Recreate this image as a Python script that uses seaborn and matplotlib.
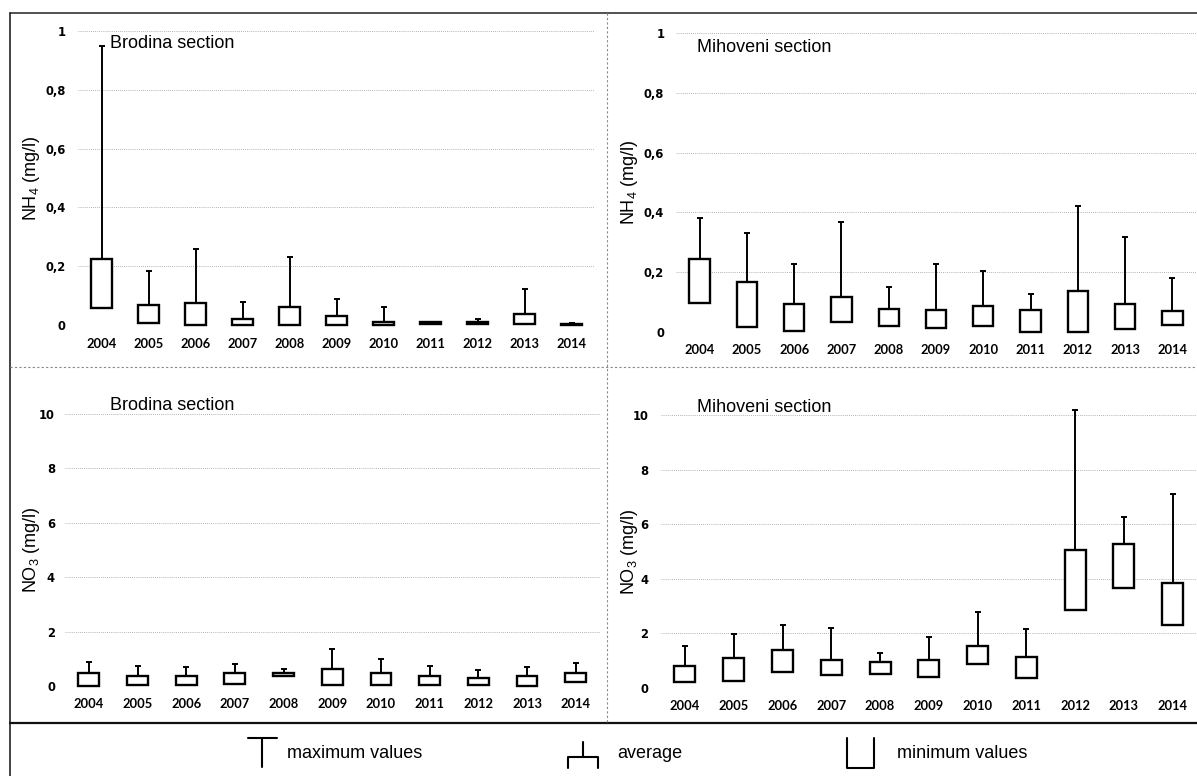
import matplotlib
matplotlib.use('Agg')
import matplotlib.pyplot as plt
import seaborn as sns
import numpy as np
from matplotlib.lines import Line2D

years = [str(y) for y in range(2004, 2015)]

# NH4 (mg/l), Brodina section
brodina_nh4_min = [0.057, 0.008, 0.0, 0.0, 0.0, 0.0, 0.0, 0.002, 0.003, 0.003, 0.001]
brodina_nh4_avg = [0.223, 0.068, 0.076, 0.019, 0.060, 0.031, 0.011, 0.009, 0.010, 0.037, 0.004]
brodina_nh4_max = [0.95, 0.185, 0.257, 0.079, 0.230, 0.090, 0.062, 0.011, 0.022, 0.121, 0.006]

# NH4 (mg/l), Mihoveni section
mihoveni_nh4_min = [0.098, 0.017, 0.002, 0.034, 0.019, 0.013, 0.021, 0.0, 0.0, 0.009, 0.025]
mihoveni_nh4_avg = [0.245, 0.168, 0.092, 0.117, 0.078, 0.075, 0.086, 0.073, 0.136, 0.093, 0.070]
mihoveni_nh4_max = [0.380, 0.330, 0.229, 0.369, 0.151, 0.226, 0.203, 0.128, 0.421, 0.318, 0.179]

# NO3 (mg/l), Brodina section
brodina_no3_min = [0.0, 0.03, 0.04, 0.08, 0.37, 0.04, 0.04, 0.04, 0.04, 0.0, 0.16]
brodina_no3_avg = [0.47, 0.37, 0.37, 0.47, 0.47, 0.61, 0.49, 0.38, 0.31, 0.38, 0.49]
brodina_no3_max = [0.90, 0.75, 0.69, 0.81, 0.61, 1.35, 0.98, 0.75, 0.59, 0.71, 0.86]

# NO3 (mg/l), Mihoveni section
mihoveni_no3_min = [0.21, 0.24, 0.59, 0.49, 0.52, 0.39, 0.89, 0.37, 2.87, 3.66, 2.32]
mihoveni_no3_avg = [0.79, 1.10, 1.40, 1.04, 0.94, 1.01, 1.55, 1.12, 5.06, 5.28, 3.84]
mihoveni_no3_max = [1.55, 1.98, 2.29, 2.20, 1.30, 1.87, 2.77, 2.17, 10.2, 6.28, 7.10]

nh4_ticks = [0, 0.2, 0.4, 0.6, 0.8, 1.0]
nh4_ticklabels = ['0', '0,2', '0,4', '0,6', '0,8', '1']
no3_ticks = [0, 2, 4, 6, 8, 10]
no3_ticklabels = ['0', '2', '4', '6', '8', '10']

sns.set_style("white")
plt.rcParams['font.family'] = ['Liberation Sans', 'DejaVu Sans']
plt.rcParams['text.color'] = 'black'
plt.rcParams['xtick.color'] = 'black'
plt.rcParams['ytick.color'] = 'black'
plt.rcParams['mathtext.fontset'] = 'custom'
plt.rcParams['mathtext.rm'] = 'Liberation Sans'
plt.rcParams['mathtext.it'] = 'Liberation Sans:italic'

W, H = 1197, 776
fig = plt.figure(figsize=(W / 100, H / 100), dpi=100)


def rect(left, top, right, bottom):
    return [left / W, 1 - bottom / H, (right - left) / W, (bottom - top) / H]


def px(x, y):
    return x / W, 1 - y / H


def draw_panel(box, mins, avgs, maxs, ticks, ticklabels, ymax, ylabel, title, title_xy, ylabel_x, ypad):
    ax = fig.add_axes(rect(*box))
    mins = np.array(mins)
    avgs = np.array(avgs)
    maxs = np.array(maxs)
    sns.barplot(x=years, y=avgs - mins, bottom=mins, order=years, width=0.43,
                color='white', edgecolor='black', linewidth=1.7, errorbar=None,
                ax=ax, zorder=3, clip_on=False)
    ax.errorbar(range(len(years)), avgs, yerr=[np.zeros(len(years)), maxs - avgs],
                fmt='none', ecolor='black', elinewidth=1.4, capsize=2.4, capthick=1.4,
                zorder=2, clip_on=False)
    ax.set_xlim(-0.5, len(years) - 0.5)
    ax.set_ylim(0, ymax)
    ax.set_yticks(ticks)
    ax.set_yticklabels(ticklabels, family='DejaVu Sans', fontweight='bold', fontsize=8.3)
    ax.set_xticks(range(len(years)))
    ax.set_xticklabels(years, family='Lato', fontweight='bold', fontsize=9.3)
    ax.tick_params(axis='x', length=0, pad=9)
    ax.tick_params(axis='y', length=0, pad=ypad)
    ax.yaxis.grid(True, color='#9a9a9a', linestyle=(0, (1, 1.5)), linewidth=0.6)
    ax.set_axisbelow(True)
    for s in ax.spines.values():
        s.set_visible(False)
    ax.set_xlabel('')
    ax.set_ylabel('')
    ax.patch.set_alpha(0)
    cy = (box[1] + box[3]) / 2
    fig.text(*px(ylabel_x, cy), ylabel, rotation=90, ha='center', va='center', fontsize=13)
    fig.text(*px(*title_xy), title, ha='left', va='center', fontsize=13)
    return ax


draw_panel((78, 31, 595, 325), brodina_nh4_min, brodina_nh4_avg, brodina_nh4_max,
           nh4_ticks, nh4_ticklabels, 1.0, 'NH$_4$ (mg/l)', 'Brodina section', (110, 43), 31, 9)
draw_panel((676, 33, 1196, 332), mihoveni_nh4_min, mihoveni_nh4_avg, mihoveni_nh4_max,
           nh4_ticks, nh4_ticklabels, 1.0, 'NH$_4$ (mg/l)', 'Mihoveni section', (697, 47), 630, 8.5)
draw_panel((64.6, 414, 600, 686), brodina_no3_min, brodina_no3_avg, brodina_no3_max,
           no3_ticks, no3_ticklabels, 10, 'NO$_3$ (mg/l)', 'Brodina section', (110, 405), 31, 7)
draw_panel((660.6, 415, 1197, 688), mihoveni_no3_min, mihoveni_no3_avg, mihoveni_no3_max,
           no3_ticks, no3_ticklabels, 10, 'NO$_3$ (mg/l)', 'Mihoveni section', (697, 407), 630, 9)


def line(xs, ys, **kw):
    fig.add_artist(Line2D([x / W for x in xs], [1 - y / H for y in ys], **kw))


# frame and panel separators
line([10, 1197], [13, 13], color='#333333', linewidth=1.2)
line([10, 10], [13, 776], color='#222222', linewidth=1.2)
line([10, 1197], [723, 723], color='#111111', linewidth=1.6)
line([607, 607], [13, 723], color='#888888', linewidth=0.8, linestyle=(0, (2, 2)))
line([10, 1197], [367, 367], color='#888888', linewidth=0.8, linestyle=(0, (2, 2)))

# legend row
line([248, 277], [738, 738], color='black', linewidth=1.5)
line([262, 262], [738, 767], color='black', linewidth=1.5)
fig.text(*px(287, 753), 'maximum values', ha='left', va='center', fontsize=13)

line([568, 568, 598, 598], [768, 757, 757, 768], color='black', linewidth=1.5)
line([583, 583], [742, 757], color='black', linewidth=1.5)
fig.text(*px(617, 753), 'average', ha='left', va='center', fontsize=13)

line([847, 847, 874, 874], [738, 768, 768, 738], color='black', linewidth=1.5)
fig.text(*px(897, 753), 'minimum values', ha='left', va='center', fontsize=13)

fig.savefig('out.png', dpi=100)
